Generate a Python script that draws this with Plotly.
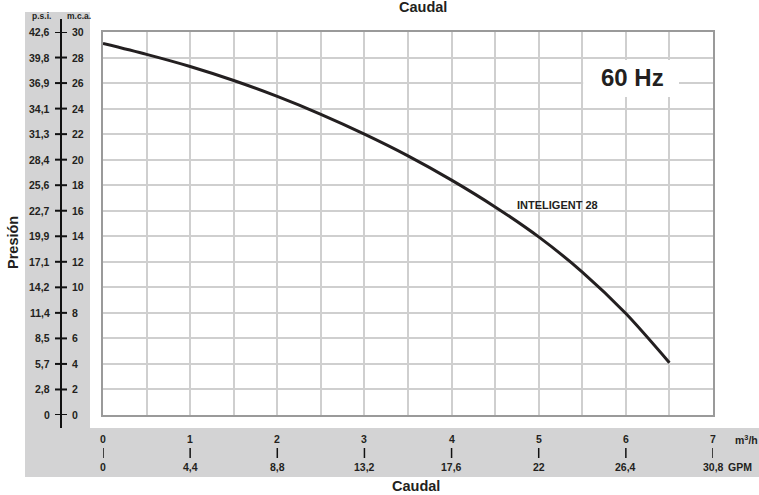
import plotly.graph_objects as go

# ---- data ----
flow_m3h = [0, 0.5, 1, 1.5, 2, 2.5, 3, 3.5, 4, 4.5, 5, 5.5, 6, 6.5]
pressure_mca = [29.1, 28.25, 27.3, 26.2, 24.95, 23.55, 22.0, 20.3, 18.4, 16.3, 13.95, 11.2, 7.95, 4.1]

mca_ticks = [0, 2, 4, 6, 8, 10, 12, 14, 16, 18, 20, 22, 24, 26, 28, 30]
psi_labels = ["0", "2,8", "5,7", "8,5", "11,4", "14,2", "17,1", "19,9", "22,7",
              "25,6", "28,4", "31,3", "34,1", "36,9", "39,8", "42,6"]
m3h_ticks = [0, 1, 2, 3, 4, 5, 6, 7]
gpm_labels = ["0", "4,4", "8,8", "13,2", "17,6", "22", "26,4", "30,8"]

series_name = "INTELIGENT 28"

# ---- layout geometry (pixels) ----
W, H = 759, 495
L, R, T, B = 103, 713, 32, 415


def px(x):
    return (x - L) / (R - L)


def py(y):
    return (B - y) / (B - T)


FONT = "Liberation Sans"
TXT = "#231f20"
GRAY = "#d3d3d4"

fig = go.Figure()
fig.add_trace(go.Scatter(
    x=flow_m3h, y=pressure_mca, mode="lines",
    line=dict(color="#231f20", width=3, shape="spline", smoothing=0.8),
    hoverinfo="skip", showlegend=False, name=series_name))

shapes = []
# gray bands
shapes.append(dict(type="rect", xref="paper", yref="paper",
                   x0=px(25), x1=px(90), y0=py(477), y1=py(12),
                   fillcolor=GRAY, line=dict(width=0), layer="below"))
shapes.append(dict(type="rect", xref="paper", yref="paper",
                   x0=px(25), x1=px(759), y0=py(477), y1=py(428),
                   fillcolor=GRAY, line=dict(width=0), layer="below"))
# left scale line
shapes.append(dict(type="line", xref="paper", yref="paper",
                   x0=px(61), x1=px(61), y0=py(428), y1=py(19),
                   line=dict(color="#111", width=2)))
# 60 Hz white box
shapes.append(dict(type="rect", xref="x", yref="y",
                   x0=5.51, x1=6.61, y0=24.9, y1=27.8,
                   fillcolor="white", line=dict(width=0), layer="above"))

annotations = []
for v, lab in zip(mca_ticks, psi_labels):
    shapes.append(dict(type="line", xref="paper", yref="y",
                       x0=px(55), x1=px(67), y0=v, y1=v,
                       line=dict(color="#111", width=2)))
    annotations.append(dict(xref="paper", yref="y", x=px(52), y=v, text=lab,
                            xanchor="right", yanchor="middle", showarrow=False,
                            font=dict(family=FONT, size=10.5, color=TXT, weight="bold")))
    annotations.append(dict(xref="paper", yref="y", x=px(70), y=v, text=str(v),
                            xanchor="left", yanchor="middle", showarrow=False,
                            font=dict(family=FONT, size=10.5, color=TXT, weight="bold")))

for v, lab in zip(m3h_ticks, gpm_labels):
    shapes.append(dict(type="line", xref="x", yref="paper",
                       x0=v, x1=v, y0=py(458), y1=py(448),
                       line=dict(color="#111", width=1.5)))
    annotations.append(dict(xref="x", yref="paper", x=v, y=py(439), text=str(v),
                            xanchor="center", yanchor="middle", showarrow=False,
                            font=dict(family=FONT, size=10.5, color=TXT, weight="bold")))
    annotations.append(dict(xref="x", yref="paper", x=v, y=py(467), text=lab,
                            xanchor="center", yanchor="middle", showarrow=False,
                            font=dict(family=FONT, size=10.5, color=TXT, weight="bold")))

def txt(x, y, text, size, **kw):
    d = dict(xref="paper", yref="paper", x=px(x), y=py(y), text=text,
             xanchor="center", yanchor="middle", showarrow=False,
             font=dict(family=FONT, size=size, color=TXT, weight="bold"))
    d.update(kw)
    annotations.append(d)

txt(41, 16, "p.s.i.", 8.5)
txt(79, 16, "m.c.a.", 8.5)
txt(746, 439, "m<sup>3</sup>/h", 10.5)
txt(740, 467, "GPM", 10.5)
txt(416, 486, "Caudal", 14.5)
txt(423, 7, "Caudal", 14.5)
txt(13, 243, "Presión", 14.5, textangle=-90)

annotations.append(dict(xref="x", yref="y", x=6.08, y=26.4, text="60 Hz",
                        xanchor="center", yanchor="middle", showarrow=False,
                        font=dict(family=FONT, size=24, color=TXT, weight="bold")))
annotations.append(dict(xref="x", yref="y", x=5.22, y=16.45, text=series_name,
                        xanchor="center", yanchor="middle", showarrow=False,
                        font=dict(family=FONT, size=11, color=TXT, weight="bold")))

fig.update_layout(
    width=W, height=H,
    margin=dict(l=L, r=W - R, t=T, b=H - B, pad=0),
    paper_bgcolor="white", plot_bgcolor="white",
    shapes=shapes, annotations=annotations,
    xaxis=dict(range=[0, 7], dtick=0.5, tick0=0, showticklabels=False, ticks="",
               showgrid=True, gridcolor="#cfcfcf", gridwidth=1.5, zeroline=False,
               showline=True, mirror=True, linecolor="#9a9a9a", linewidth=2,
               fixedrange=True),
    yaxis=dict(range=[0, 30], dtick=2, tick0=0, showticklabels=False, ticks="",
               showgrid=True, gridcolor="#cfcfcf", gridwidth=1.5, zeroline=False,
               showline=True, mirror=True, linecolor="#9a9a9a", linewidth=2,
               fixedrange=True),
    showlegend=False,
)

fig.write_html("out.html", config={"displayModeBar": False},
               post_script="document.body.style.margin='0';document.body.style.overflow='hidden';")
